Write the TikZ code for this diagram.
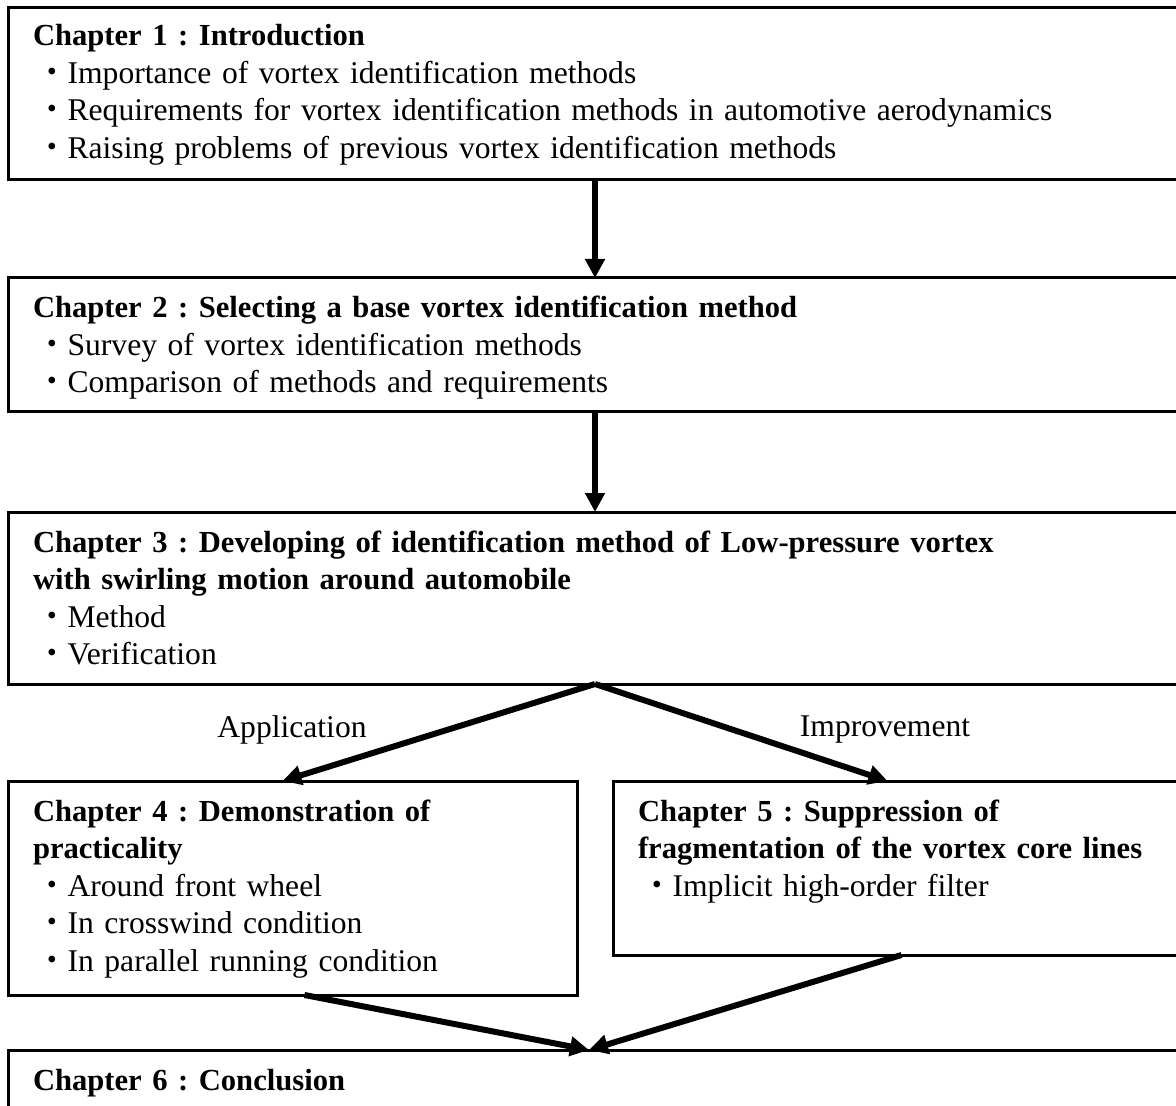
\documentclass[tikz,border=0pt]{standalone}
\usepackage{fontspec}
\setmainfont{Liberation Serif}
\newfontfamily\jpfont{Noto Sans CJK JP}
\usetikzlibrary{arrows.meta}
\newcommand{\bul}{\hspace*{1.5pt}{\jpfont ・}}
\newcommand{\hd}[1]{{\fontsize{15.3}{18.75}\selectfont\bfseries #1}}
\frenchspacing

\begin{document}
\begin{tikzpicture}[x=0.5pt,y=-0.5pt,
    every node/.style={font=\fontsize{15.8}{18.75}\selectfont},
    chapbox/.style={draw,line width=1.5pt,anchor=north west,outer sep=0pt,
      inner xsep=12.5pt,inner ysep=0pt,align=left,text height=20pt},
    flow/.style={-{Triangle[length=9.5pt,width=9.5pt]},line width=3pt}]
  \useasboundingbox (0,0) rectangle (1176,1106);
  \clip (0,0) rectangle (1176,1106);
  % chapter boxes
  \node[chapbox,text width=566pt,text height=19pt,text depth=67pt] (ch1) at (8,8)
    {\hd{Chapter 1 : Introduction}\\
     \bul Importance of vortex identification methods\\
     \bul Requirements for vortex identification methods in automotive aerodynamics\\
     \bul Raising problems of previous vortex identification methods};
  \node[chapbox,text width=566pt,text height=20pt,text depth=47pt] (ch2) at (8,278)
    {\hd{Chapter 2 : Selecting a base vortex identification method}\\
     \bul Survey of vortex identification methods\\
     \bul Comparison of methods and requirements};
  \node[chapbox,text width=566pt,text depth=66pt] (ch3) at (8,512)
    {\hd{Chapter 3 : Developing of identification method of Low-pressure vortex}\\
     \hd{with swirling motion around automobile}\\
     \bul Method\\
     \bul Verification};
  \node[chapbox,text width=259.5pt,text depth=87pt] (ch4) at (8,781)
    {\hd{Chapter 4 : Demonstration of}\\
     \hd{practicality}\\
     \bul Around front wheel\\
     \bul In crosswind condition\\
     \bul In parallel running condition};
  \node[chapbox,text width=263.5pt,text depth=67pt] (ch5) at (613,781)
    {\hd{Chapter 5 : Suppression of}\\
     \hd{fragmentation of the vortex core lines}\\
     \bul Implicit high-order filter};
  \node[chapbox,text width=566pt,text depth=40pt] (ch6) at (8,1050)
    {\hd{Chapter 6 : Conclusion}};
  % labels
  \node (app) at (292,730) {Application};
  \node (imp) at (885,730) {Improvement};
  % flow
  \draw[flow] ([xshift=-2pt]ch1.south) -- ([xshift=-2pt]ch2.north);
  \draw[flow] ([xshift=-2pt]ch2.south) -- ([xshift=-2pt]ch3.north);
  \draw[flow] ([xshift=-2pt]ch3.south) -- ([xshift=-5pt]ch4.north);
  \draw[flow] ([xshift=-2pt]ch3.south) -- ([xshift=-7pt]ch5.north);
  \draw[flow] ([xshift=6pt]ch4.south) -- ([xshift=-5pt]ch6.north);
  \draw[flow] (ch5.south) -- ([xshift=-5pt]ch6.north);
\end{tikzpicture}
\end{document}
